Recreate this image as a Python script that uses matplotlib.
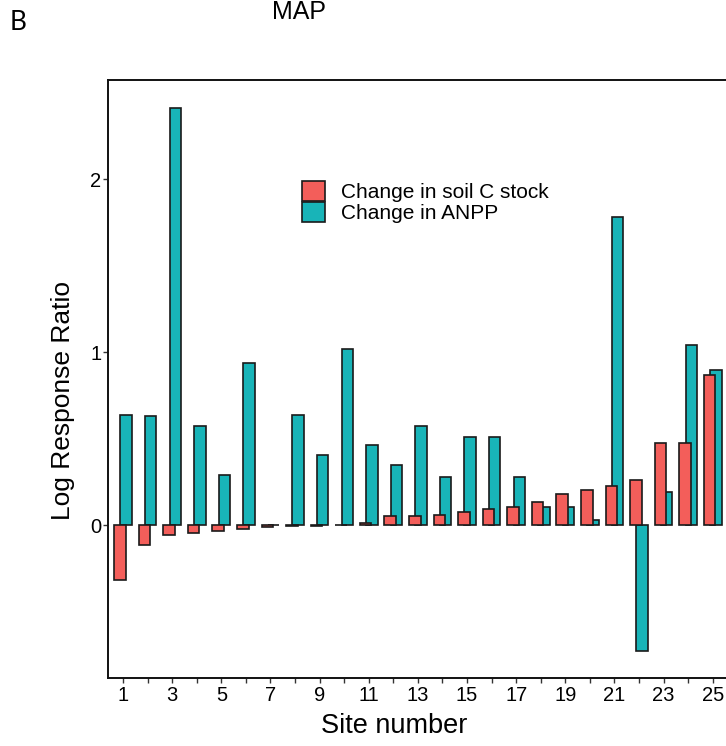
import matplotlib
matplotlib.use("Agg")
import matplotlib.pyplot as plt
import numpy as np

# site numbers and log response ratios
sites = list(range(1, 26))
soil_c = [-0.315, -0.114, -0.056, -0.044, -0.033, -0.021, -0.008, -0.006, -0.003, 0.002,
          0.014, 0.055, 0.054, 0.060, 0.075, 0.094, 0.106, 0.135, 0.179, 0.202,
          0.229, 0.262, 0.475, 0.479, 0.870]
anpp = [0.640, 0.635, 2.416, 0.577, 0.292, 0.939, 0.004, 0.640, 0.406, 1.020,
        0.467, 0.350, 0.577, 0.281, 0.514, 0.510, 0.279, 0.106, 0.106, 0.029,
        1.785, -0.727, 0.192, 1.044, 0.898]
series_labels = ["Change in soil C stock", "Change in ANPP"]
x_tick_labels = [str(s) if s % 2 == 1 else "" for s in sites]
y_ticks = [0, 1, 2]

RED = "#F35E5A"
TEAL = "#18B4B8"

plt.rcParams["font.family"] = ["Liberation Sans", "DejaVu Sans"]

W, H = 726, 746
fig = plt.figure(figsize=(W / 100, H / 100), dpi=100)
fig.patch.set_facecolor("white")

left, right, top, bottom = 108.3, 727.5, 80, 678
ax = fig.add_axes([left / W, 1 - bottom / H, (right - left) / W, (bottom - top) / H])

x = np.array(sites, dtype=float)
width = 0.47
off = 0.126
ax.bar(x + off, anpp, width=width, color=TEAL, edgecolor="#1a1a1a", linewidth=1.2,
       label=series_labels[1], zorder=2)
ax.bar(x - off, soil_c, width=width, color=RED, edgecolor="#1a1a1a", linewidth=1.2,
       label=series_labels[0], zorder=3)

ax.set_xlim(0.4, 25.6)
ax.set_ylim(-0.882, 2.575)
ax.set_xticks(sites)
ax.set_xticklabels(x_tick_labels, fontsize=14.5)
ax.set_yticks(y_ticks)
ax.set_yticklabels([str(v) for v in y_ticks], fontsize=14.5)
ax.tick_params(axis="x", length=3.6, width=1.0, color="#333333", pad=2.5)
ax.tick_params(axis="y", length=3.6, width=1.0, color="#333333", pad=1.5)

for side in ["left", "bottom", "top", "right"]:
    ax.spines[side].set_linewidth(1.4)
    ax.spines[side].set_color("#111111")

handles, labels = ax.get_legend_handles_labels()
leg = fig.legend(handles[::-1], labels[::-1], loc="upper left",
                 bbox_to_anchor=(302 / W, 1 - 180.7 / H), bbox_transform=fig.transFigure,
                 frameon=False, fontsize=15, handlelength=1.08, handleheight=1.1,
                 labelspacing=0.0, handletextpad=0.8, borderpad=0, borderaxespad=0)

fig.text(394.5 / W, 1 - 726 / H, "Site number", fontsize=19.5, ha="center", va="center")
fig.text(63 / W, 1 - 401 / H, "Log Response Ratio", fontsize=19, rotation=90,
         ha="center", va="center")
fig.text(299 / W, 1 - 12 / H, "MAP", fontsize=18, ha="center", va="center")
fig.text(10 / W, 1 - 23 / H, "B", fontsize=19, ha="left", va="center",
         family=["Lato", "Liberation Sans"])

fig.savefig("out.png", dpi=100)
